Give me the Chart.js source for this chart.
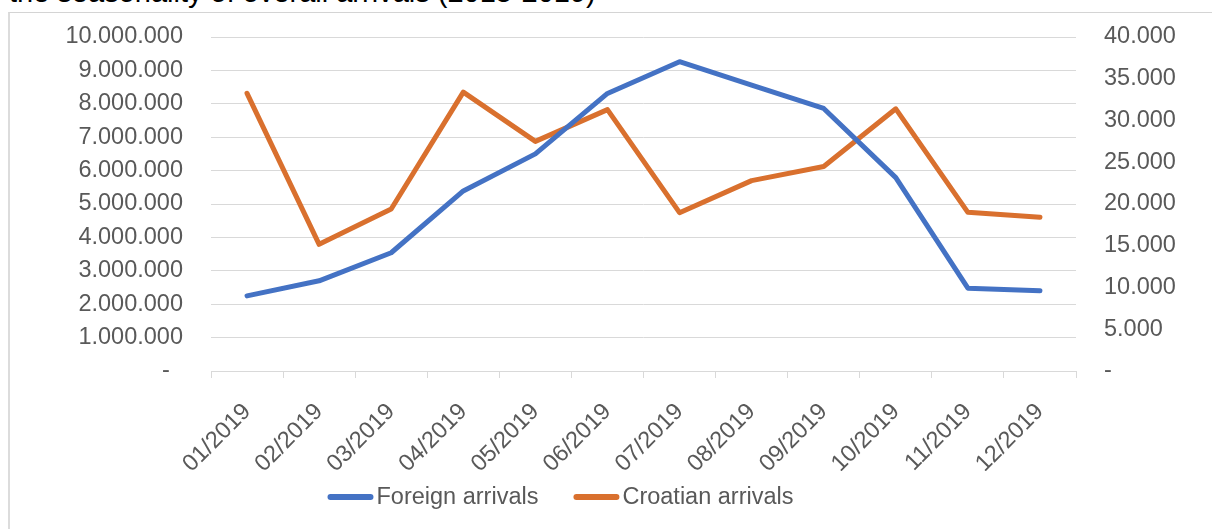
<!DOCTYPE html>
<html>
<head>
<meta charset="utf-8">
<script src="https://cdn.jsdelivr.net/npm/chart.js@4"></script>
<style>
  html, body { margin: 0; padding: 0; background: #fff; }
  body { width: 1212px; height: 529px; position: relative; overflow: hidden; }
  #frame { position: absolute; left: 8px; top: 12px; width: 1300px; height: 600px;
           border-left: 2px solid #DCDCDC; border-top: 1px solid #D4D4D4; box-sizing: border-box; }
  #title { position: absolute; left: 9px; top: -24px; font-family: "Liberation Sans", Arial, sans-serif;
           font-size: 29px; color: #000; white-space: nowrap; line-height: 32px; }
  #wrap { position: absolute; left: 0; top: 0; width: 1212px; height: 529px; }
</style>
</head>
<body>
<div id="frame"></div>
<div id="title">the seasonality of overall arrivals (2015-2019)</div>
<div id="wrap"><canvas id="c" width="1212" height="529"></canvas></div>
<script>
const categories = ["01/2019","02/2019","03/2019","04/2019","05/2019","06/2019","07/2019","08/2019","09/2019","10/2019","11/2019","12/2019"];
const foreignArrivals = [2250000, 2700000, 3540000, 5390000, 6500000, 8310000, 9260000, 8560000, 7860000, 5790000, 2480000, 2400000];
const croatianArrivals = [33250, 15170, 19400, 33400, 27500, 31300, 18960, 22800, 24500, 31400, 19000, 18400];
const seriesLabels = ["Foreign arrivals", "Croatian arrivals"];
const seriesColors = ["#4472C4", "#D9702E"];

const FONT = "'Liberation Sans', Arial, sans-serif";
const FSIZE = 23.5;
const TXT = "#595959";
const GRID = "#D9D9D9";

function fmtDots(v) {
  return String(Math.round(v)).replace(/\B(?=(\d{3})+(?!\d))/g, ".");
}

const customLegend = {
  id: 'customLegend',
  afterDraw(chart) {
    const ctx = chart.ctx;
    ctx.save();
    ctx.font = FSIZE + "px " + FONT;
    const lineW = 46, gapText = 3, gapItem = 35;
    const items = chart.data.datasets.map(ds => ({ label: ds.label, color: ds.borderColor, w: lineW + gapText + ctx.measureText(ds.label).width }));
    const total = items.reduce((s, it) => s + it.w, 0) + gapItem * (items.length - 1);
    let x = 560.5 - total / 2;
    const y = 497;
    items.forEach(it => {
      ctx.strokeStyle = it.color;
      ctx.lineWidth = 6;
      ctx.lineCap = 'round';
      ctx.beginPath();
      ctx.moveTo(x + 3, y);
      ctx.lineTo(x + lineW - 3, y);
      ctx.stroke();
      ctx.fillStyle = TXT;
      ctx.textAlign = 'left';
      ctx.textBaseline = 'middle';
      ctx.fillText(it.label, x + lineW + gapText, y + 1);
      x += it.w + gapItem;
    });
    ctx.restore();
  }
};

new Chart(document.getElementById('c'), {
  type: 'line',
  data: {
    labels: categories,
    datasets: [
      { label: seriesLabels[0], data: foreignArrivals, yAxisID: 'y', borderColor: seriesColors[0], backgroundColor: seriesColors[0],
        borderWidth: 5, pointRadius: 0, tension: 0, borderCapStyle: 'round', borderJoinStyle: 'round' },
      { label: seriesLabels[1], data: croatianArrivals, yAxisID: 'y1', borderColor: seriesColors[1], backgroundColor: seriesColors[1],
        borderWidth: 5, pointRadius: 0, tension: 0, borderCapStyle: 'round', borderJoinStyle: 'round' }
    ]
  },
  options: {
    responsive: false,
    animation: false,
    devicePixelRatio: 1,
    layout: { padding: { left: 64, right: 0, top: 37, bottom: 58 } },
    plugins: { legend: { display: false }, tooltip: { enabled: false }, title: { display: false } },
    scales: {
      x: {
        offset: true,
        grid: { display: true, drawOnChartArea: false, drawTicks: true, tickLength: 7, color: GRID, offset: true },
        border: { display: true, color: GRID, width: 1 },
        ticks: { color: TXT, font: { family: FONT, size: FSIZE }, maxRotation: 45, minRotation: 45, autoSkip: false, padding: 20 },
        afterFit(s) { s.height = 100; }
      },
      y: {
        position: 'left',
        min: 0, max: 10000000,
        grid: { color: GRID, lineWidth: 1, drawTicks: true, tickLength: 28, tickColor: 'rgba(0,0,0,0)' },
        border: { display: false },
        ticks: { stepSize: 1000000, color: TXT, font: { family: FONT, size: FSIZE }, padding: 0,
                 callback: v => v === 0 ? "-  " : fmtDots(v) },
        afterFit(s) { s.width = 147; }
      },
      y1: {
        position: 'right',
        min: 0, max: 40000,
        grid: { drawOnChartArea: false, drawTicks: true, tickLength: 28, tickColor: 'rgba(0,0,0,0)' },
        border: { display: false },
        ticks: { stepSize: 5000, color: TXT, font: { family: FONT, size: FSIZE }, padding: 0,
                 callback: v => v === 0 ? "-" : fmtDots(v) },
        afterFit(s) { s.width = 136; }
      }
    }
  },
  plugins: [customLegend]
});
</script>
</body>
</html>
